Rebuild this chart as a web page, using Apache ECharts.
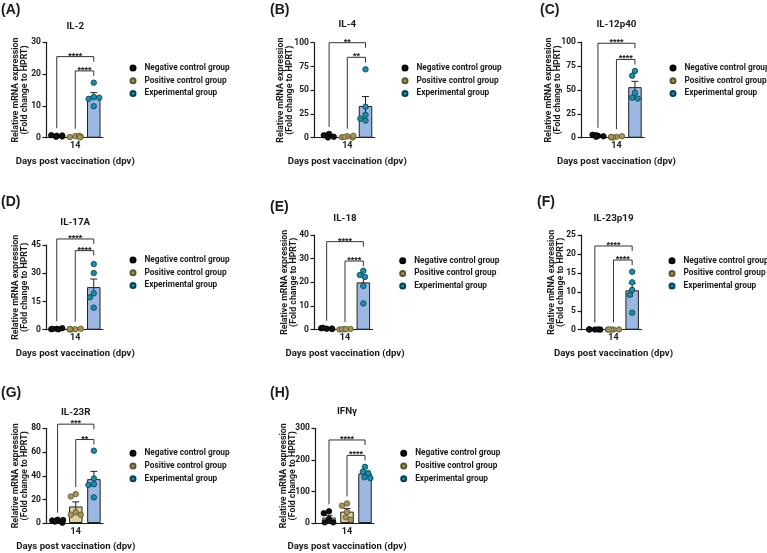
<!DOCTYPE html>
<html><head><meta charset="utf-8">
<script src="https://cdn.jsdelivr.net/npm/echarts@6/dist/echarts.min.js"></script>
<style>html,body{margin:0;padding:0;background:#fff}#c{width:767px;height:553px}</style>
</head><body><div id="c"></div>
<script>
// ---------------- data ----------------
const groups = ['Negative control group', 'Positive control group', 'Experimental group'];
const panelLetters = ['(A)', '(B)', '(C)', '(D)', '(E)', '(F)', '(G)', '(H)'];
const panelTitles = ['IL-2', 'IL-4', 'IL-12p40', 'IL-17A', 'IL-18', 'IL-23p19', 'IL-23R', 'IFNγ'];
const xTickLabel = '14';
const xAxisTitle = 'Days post vaccination (dpv)';
const yAxisTitle = 'Relative mRNA expression\n(Fold change to HPRT)';
const yMaxes = [30, 100, 100, 45, 40, 25, 80, 300];
const yIntervals = [10, 25, 25, 15, 10, 5, 20, 100];

// replicate values: [negative, positive, experimental]
const il2 = [[0.6, 0.8, 0.4, 0.7, 0.3], [0.5, 0.2, 0.3, 0.6, 0.1], [17.3, 12.8, 12.2, 12.6, 9.9]];
const il4 = [[4, 2.5, 1, 3, 0.3], [1.5, 0.5, 0.2, 2, 0.8], [72, 32.6, 24, 18, 20]];
const il12p40 = [[2, 3, 1.5, 2.5, 1], [1, 0.5, 1.5, 0.2, 0.8], [70, 65, 47, 42, 41]];
const il17a = [[0.5, 0.3, 0.8, 0.2, 0.4], [0.3, 0.1, 0.5, 0.2, 0.4], [34.9, 30.1, 19.3, 17.2, 11.7]];
const il18 = [[0.4, 0.6, 0.3, 0.8, 0.5], [0.2, 0.1, 0.3, 0.15, 0.25], [24.9, 23.1, 22.3, 18.5, 11.1]];
const il23p19 = [[0.05, 0.1, 0.02, 0.08, 0.03], [0.05, 0.02, 0.06, 0.03, 0.04], [15.3, 12.5, 10.5, 9.2, 4.5]];
const il23r = [[2.8, 2.2, 2.5, 1.2, 0.3], [24.4, 22.4, 9, 7, 7], [61.1, 37.6, 32.8, 32.2, 21.6]];
const ifng = [[37, 31, 13, 2, 2], [62, 55, 35, 18, 10], [178, 162, 158, 145, 142]];
const panelValues = [il2, il4, il12p40, il17a, il18, il23p19, il23r, ifng];

// significance brackets: [fromGroup, toGroup, level (axis units), label]
const sigA = [[0, 2, 25.5, '****'], [1, 2, 21, '****']];
const sigB = [[0, 2, 100, '**'], [1, 2, 84.6, '**']];
const sigC = [[0, 2, 99, '****'], [1, 2, 82, '****']];
const sigD = [[0, 2, 48.2, '****'], [1, 2, 42, '****']];
const sigE = [[0, 2, 37.2, '****'], [1, 2, 29, '****']];
const sigF = [[0, 2, 22.1, '****'], [1, 2, 18.4, '****']];
const sigG = [[0, 2, 83.5, '***'], [1, 2, 70.5, '**']];
const sigH = [[0, 2, 263, '****'], [1, 2, 214, '****']];
const panelSig = [sigA, sigB, sigC, sigD, sigE, sigF, sigG, sigH];

// ---------------- layout & style ----------------
const LAY = [
  {ax: 46, bs: 47.5, bw: 55.5, top: 42.3, bot: 137.7, lx: 132, ly: 68, ty: 27, px: 1, py: 10, ng: 17},
  {ax: 314, bs: 320, bw: 54.6, top: 42.7, bot: 137.7, lx: 404, ly: 68, ty: 25, px: 270, py: 10, ng: 20},
  {ax: 581, bs: 588.7, bw: 55.5, top: 42.3, bot: 137.7, lx: 672, ly: 68, ty: 25, px: 540, py: 10, ng: 19},
  {ax: 46, bs: 47.5, bw: 55.5, top: 245, bot: 329.7, lx: 132, ly: 260, ty: 222.7, px: 1, py: 201.7, ng: 17},
  {ax: 314, bs: 317.5, bw: 55, top: 235, bot: 329.7, lx: 401.7, ly: 260.7, ty: 219, px: 270, py: 206.7, ng: 16},
  {ax: 581, bs: 585.5, bw: 56, top: 235, bot: 329.7, lx: 671, ly: 260.7, ty: 219, px: 537, py: 201.7, ng: 16},
  {ax: 46, bs: 48.5, bw: 54.5, top: 428.3, bot: 523.3, lx: 132, ly: 453.3, ty: 412.5, px: 1, py: 393.3, ng: 17},
  {ax: 315, bs: 320, bw: 54, top: 428.3, bot: 523.3, lx: 402.7, ly: 453.3, ty: 412, px: 270, py: 393.3, ng: 18}
];
const FN = "Roboto,'Liberation Sans',sans-serif";
const FW = "'Liberation Sans',Arial,sans-serif";
const INK = '#1a1a1a';
const pointColors = ['#111111', '#a39659', '#1d8ea8'];
const pointBorders = ['#000000', '#5a5230', '#0b3e50'];
const barFills = ['#ffffff', '#dbd09e', '#9cb8e2'];

function mean(a) { return a.reduce((s, v) => s + v, 0) / a.length; }
function sem(a) {
  const m = mean(a);
  const v = a.reduce((s, x) => s + (x - m) * (x - m), 0) / (a.length - 1);
  return Math.sqrt(v / a.length);
}

const option = {
  animation: false,
  backgroundColor: '#ffffff',
  title: [], grid: [], xAxis: [], yAxis: [], legend: [], series: []
};

panelValues.forEach((vals, i) => {
  const L = LAY[i];
  const fg = 2 * i, dg = 2 * i + 1;
  const h = L.bot - L.top;
  option.grid.push({left: L.ax, top: L.top, width: L.bs + L.bw - L.ax, height: h});
  option.grid.push({left: L.bs, top: L.top, width: L.bw, height: h});

  // frame axes (visible lines, y ticks, y title)
  option.xAxis.push({
    gridIndex: fg, type: 'value', min: 0, max: 1,
    axisLine: {show: true, lineStyle: {color: INK, width: 1.2}},
    axisTick: {show: false}, axisLabel: {show: false}, splitLine: {show: false}
  });
  option.yAxis.push({
    gridIndex: fg, type: 'value', min: 0, max: yMaxes[i], interval: yIntervals[i],
    axisLine: {show: true, lineStyle: {color: INK, width: 1.2}},
    axisTick: {show: true, length: 3.5, lineStyle: {color: INK, width: 1.2}},
    axisLabel: {fontSize: 8.5, fontWeight: 'bold', fontFamily: FN, color: INK, margin: 5},
    splitLine: {show: false},
    name: yAxisTitle, nameLocation: 'middle', nameRotate: 90, nameGap: L.ng, nameMoveOverlap: false,
    nameTextStyle: {fontSize: 8.8, fontWeight: 'bold', fontFamily: FN, color: INK, lineHeight: 8.6}
  });
  // data axes
  option.xAxis.push({
    gridIndex: dg, type: 'category', data: groups,
    jitter: 14, jitterOverlap: false, jitterMargin: 0,
    axisLine: {show: false}, axisTick: {show: false},
    axisLabel: {interval: 0, margin: 4, fontSize: 9, fontWeight: 'bold', fontFamily: FN, color: INK,
      formatter: (v, idx) => idx === 1 ? xTickLabel : ''},
    name: xAxisTitle, nameLocation: 'middle', nameGap: 19, nameMoveOverlap: false,
    nameTextStyle: {fontSize: 9.6, fontWeight: 'bold', fontFamily: FN, color: INK}
  });
  option.yAxis.push({gridIndex: dg, type: 'value', min: 0, max: yMaxes[i], show: false});

  // titles
  option.title.push({text: panelLetters[i], left: L.px, top: L.py - 8, padding: 0,
    textStyle: {fontSize: 14, fontWeight: 'bold', fontFamily: FW, color: INK, lineHeight: 16}});
  option.title.push({text: panelTitles[i], left: L.bs + L.bw / 2, top: L.ty - 6, textAlign: 'center', padding: 0,
    textStyle: {fontSize: 9.8, fontWeight: 'bold', fontFamily: FN, color: INK, lineHeight: 12}});

  // legend
  option.legend.push({
    data: groups, orient: 'vertical', left: L.lx - 2.5, top: L.ly - 5, padding: 0,
    itemWidth: 5, itemHeight: 5, itemGap: 2.7, icon: 'circle', selectedMode: false,
    textStyle: {fontSize: 8.3, fontWeight: 'bold', fontFamily: FN, color: INK, lineHeight: 10, padding: [0, 0, 0, 4]}
  });

  const means = vals.map(mean);
  const sems = vals.map(sem);

  // bars
  option.series.push({
    type: 'bar', name: 'bars' + i, xAxisIndex: dg, yAxisIndex: dg, barWidth: 13.5, z: 2,
    data: means.map((m, g) => ({value: m, itemStyle: {color: barFills[g], borderColor: '#222', borderWidth: 1}}))
  });
  // error bars (mean ± SEM)
  option.series.push({
    type: 'custom', name: 'err' + i, xAxisIndex: dg, yAxisIndex: dg, z: 3,
    data: means.map((m, g) => [g, m, sems[g]]),
    renderItem: (params, api) => {
      const x = api.value(0), m = api.value(1), s = api.value(2);
      const t = api.coord([x, m + s]), b = api.coord([x, Math.max(0, m - s)]);
      const hw = 3.5;
      return {type: 'group', children: [
        {type: 'line', shape: {x1: t[0], y1: t[1], x2: b[0], y2: b[1]}, style: {stroke: '#222', lineWidth: 1}},
        {type: 'line', shape: {x1: t[0] - hw, y1: t[1], x2: t[0] + hw, y2: t[1]}, style: {stroke: '#222', lineWidth: 1}}
      ]};
    }
  });
  // points
  vals.forEach((arr, g) => {
    option.series.push({
      type: 'scatter', name: groups[g], xAxisIndex: dg, yAxisIndex: dg, z: 4,
      symbolSize: 5.5,
      itemStyle: {color: pointColors[g], borderColor: pointBorders[g], borderWidth: 0.8, opacity: 1},
      data: arr.map(v => [g, v])
    });
  });
  // significance brackets
  const sig = panelSig[i];
  option.series.push({
    type: 'custom', name: 'sig' + i, xAxisIndex: dg, yAxisIndex: dg, z: 5, clip: false,
    data: sig.map(b => [b[0], b[2]]),
    renderItem: (params, api) => {
      const b = sig[params.dataIndex];
      const p1 = api.coord([b[0], b[2]]), p2 = api.coord([b[1], b[2]]);
      const legBottom = api.coord([b[0], Math.max(...vals[b[0]])])[1] - 7;
      const y = p1[1];
      return {type: 'group', children: [
        {type: 'polyline', shape: {points: [[p1[0], legBottom], [p1[0], y], [p2[0], y], [p2[0], y + 5]]},
          style: {stroke: '#333', fill: null, lineWidth: 1}},
        {type: 'text', style: {text: b[3], x: (p1[0] + p2[0]) / 2, y: y - 0.5, align: 'center', verticalAlign: 'middle',
          font: 'bold 9px ' + FW, fill: INK}}
      ]};
    }
  });
});

const chart = echarts.init(document.getElementById('c'), null, {renderer: 'canvas'});
chart.setOption(option);
</script>
</body></html>
